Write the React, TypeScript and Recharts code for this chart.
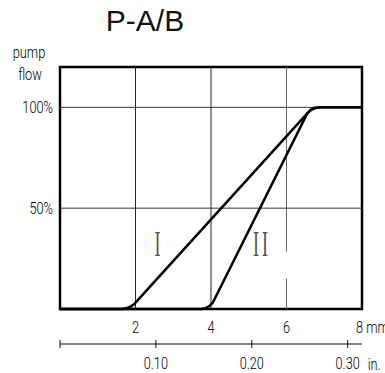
import React from "react";
import {
  LineChart,
  Line,
  XAxis,
  YAxis,
  ReferenceLine,
  ReferenceArea,
  ReferenceDot,
} from "recharts";

// stroke in mm vs pump flow in %
const curveIStroke = [0, 1.66, 1.78, 1.88, 1.97, 6.55, 6.65, 6.76, 6.9, 8];
const curveIFlow = [0, 0, 0.5, 1.3, 2.5, 97, 98.8, 99.7, 100, 100];
const curveIIStroke = [0, 3.75, 3.86, 3.96, 4.05, 6.55, 6.65, 6.76, 6.9, 8];
const curveIIFlow = [0, 0, 0.4, 1.5, 3.2, 97, 98.8, 99.7, 100, 100];

const mmTicks = [2, 4, 6, 8];
const flowTicks = [50, 100];
const inchTicks = [0, 0.1, 0.2, 0.3];
const MM_PER_INCH = 25.4;

const curveI = curveIStroke.map((s, i) => ({ stroke: s, flow: curveIFlow[i] }));
const curveII = curveIIStroke.map((s, i) => ({ stroke: s, flow: curveIIFlow[i] }));

const techFont = 'Roboto, "DejaVu Sans", sans-serif';

// narrow technical lettering: squeeze horizontally around the anchor
const NarrowText = ({ x, y, anchor, children }: any) => (
  <text
    transform={`translate(${x}, ${y}) scale(0.75, 1)`}
    x={0}
    y={0}
    textAnchor={anchor}
    fontFamily={techFont}
    fontWeight={300}
    fontSize={17}
    fill="#000"
  >
    {children}
  </text>
);

const MmTick = (props: any) => {
  const { x, y, payload } = props;
  const v = payload.value;
  if (v === 8) {
    return (
      <NarrowText x={x - 6} y={y + 24} anchor="start">
        8 mm
      </NarrowText>
    );
  }
  return (
    <NarrowText x={x} y={y + 24} anchor="middle">
      {v}
    </NarrowText>
  );
};

const InchTick = (props: any) => {
  const { x, y, payload } = props;
  const inch = payload.value / MM_PER_INCH;
  const label = inch < 0.01 ? "" : inch.toFixed(2);
  return (
    <g>
      <line x1={x} x2={x} y1={y - 4} y2={y + 4} stroke="#111" strokeWidth={1} />
      <NarrowText x={x} y={y + 25} anchor="middle">
        {label}
      </NarrowText>
      {inch > 0.29 && (
        <NarrowText x={x + 20} y={y + 26} anchor="start">
          in.
        </NarrowText>
      )}
    </g>
  );
};

const FlowTick = (props: any) => {
  const { x, y, payload } = props;
  return (
    <NarrowText x={x - 7} y={y + 6} anchor="end">
      {payload.value}%
    </NarrowText>
  );
};

const Numeral = (text: string) => (props: any) => (
  <text
    transform={`translate(${props.cx}, ${props.cy}) scale(1, 2)`}
    x={0}
    y={6}
    textAnchor="middle"
    fontFamily='"Liberation Serif", serif'
    fontSize={18}
    letterSpacing={3}
    fill="#555"
  >
    {text}
  </text>
);

export default function App() {
  return (
    <div style={{ position: "absolute", left: 0, top: 0, width: 385, height: 373, background: "#fff" }}>
      <div
        style={{
          position: "absolute",
          left: 95,
          top: 3,
          width: 100,
          textAlign: "center",
          fontFamily: '"Liberation Sans", Arial, sans-serif',
          fontSize: 30,
          lineHeight: "36px",
          color: "#111",
        }}
      >
        P-A/B
      </div>
      <svg width={60} height={90} style={{ position: "absolute", left: 0, top: 0 }}>
        <NarrowText x={29} y={58} anchor="middle">
          pump
        </NarrowText>
        <NarrowText x={30} y={80} anchor="middle">
          flow
        </NarrowText>
      </svg>
      <LineChart width={385} height={373} margin={{ top: 67, right: 23, bottom: 0, left: 0 }}>
        <XAxis
          xAxisId={0}
          dataKey="stroke"
          type="number"
          domain={[0, 8]}
          ticks={mmTicks}
          height={35}
          axisLine={false}
          tickLine={false}
          tickSize={0}
          tickMargin={0}
          tick={MmTick}
          interval={0}
        />
        <XAxis
          xAxisId="in"
          dataKey="stroke"
          type="number"
          domain={[0, 8]}
          ticks={inchTicks.map((t) => t * MM_PER_INCH)}
          height={29}
          axisLine={{ stroke: "#111", strokeWidth: 1 }}
          tickLine={false}
          tickSize={0}
          tickMargin={0}
          tick={InchTick}
          interval={0}
        />
        <YAxis
          type="number"
          domain={[0, 120]}
          ticks={flowTicks}
          width={60}
          axisLine={false}
          tickLine={false}
          tickSize={0}
          tickMargin={0}
          tick={FlowTick}
          interval={0}
        />
        <ReferenceLine x={2} stroke="#222" strokeWidth={1} />
        <ReferenceLine x={4} stroke="#222" strokeWidth={1} />
        <ReferenceLine segment={[{ x: 6, y: 0 }, { x: 6, y: 15 }]} stroke="#666" strokeWidth={1} />
        <ReferenceLine segment={[{ x: 6, y: 28.4 }, { x: 6, y: 120 }]} stroke="#666" strokeWidth={1} />
        <ReferenceLine y={50} stroke="#333" strokeWidth={1} />
        <ReferenceLine y={100} stroke="#333" strokeWidth={1} />
        <ReferenceArea
          x1={0}
          x2={8}
          y1={0}
          y2={120}
          fill="none"
          fillOpacity={0}
          stroke="#000"
          strokeWidth={2.5}
          strokeOpacity={1}
        />
        <Line
          data={curveI}
          dataKey="flow"
          type="linear"
          stroke="#000"
          strokeWidth={2.5}
          strokeLinejoin="round"
          dot={false}
          isAnimationActive={false}
        />
        <Line
          xAxisId="in"
          data={curveII}
          dataKey="flow"
          type="linear"
          stroke="#000"
          strokeWidth={2.5}
          strokeLinejoin="round"
          dot={false}
          isAnimationActive={false}
        />
        <ReferenceDot x={2.62} y={32} r={0} shape={Numeral("I")} />
        <ReferenceDot x={5.35} y={32} r={0} shape={Numeral("II")} />
      </LineChart>
    </div>
  );
}
